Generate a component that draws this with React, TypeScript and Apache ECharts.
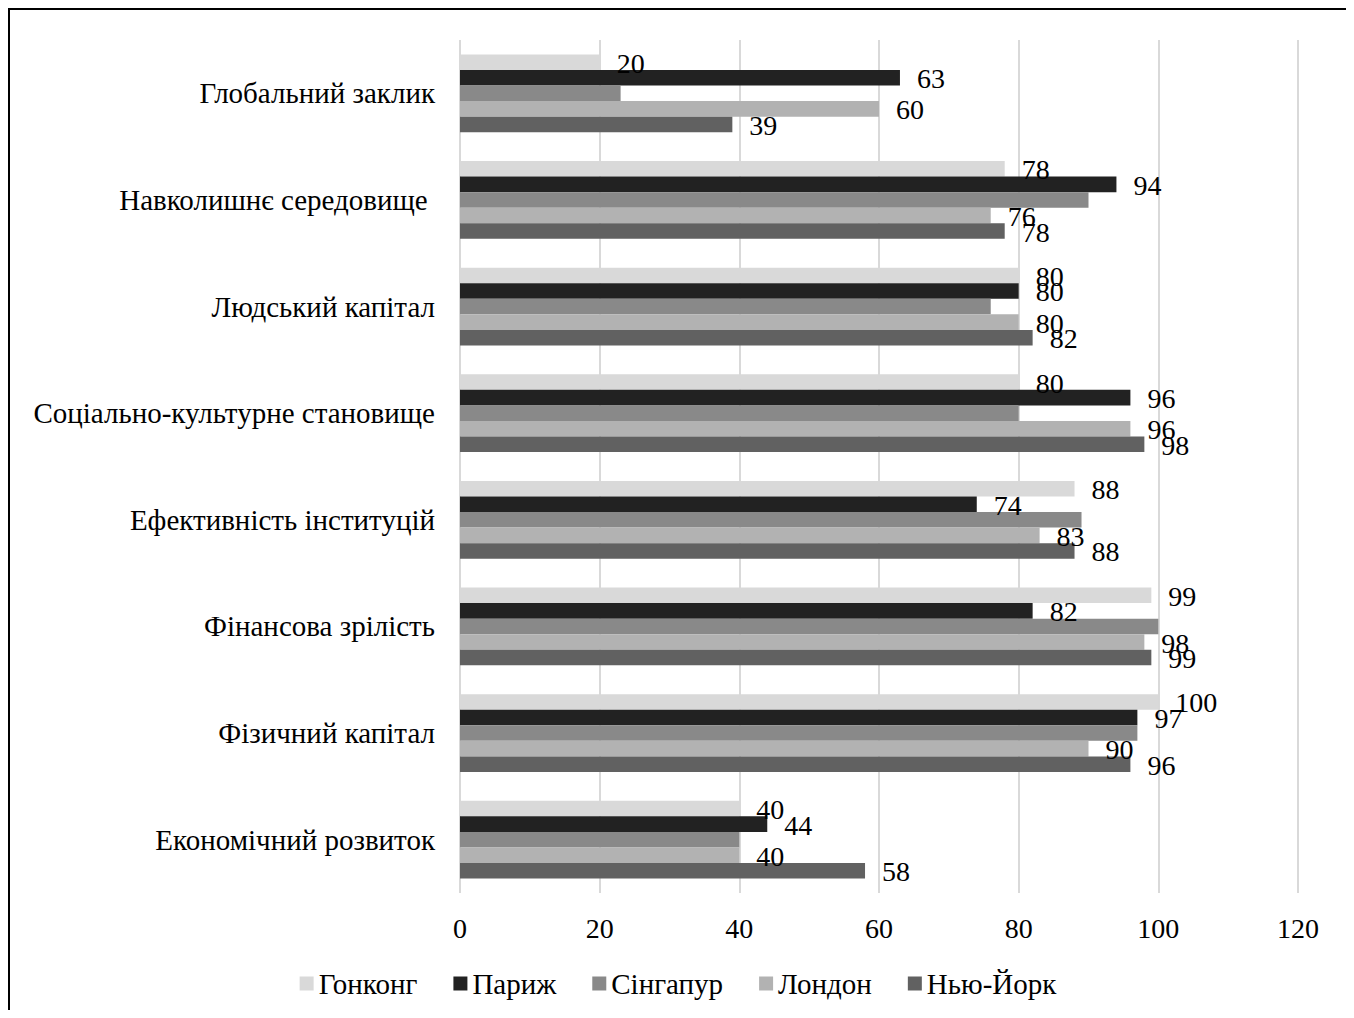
import React, { useEffect, useRef } from "react";
import * as echarts from "echarts";

const categories = [
  "Економічний розвиток",
  "Фізичний капітал",
  "Фінансова зрілість",
  "Ефективність інституцій",
  "Соціально-культурне становище",
  "Людський капітал",
  "Навколишнє середовище ",
  "Глобальний заклик",
];

const seriesNames = ["Гонконг", "Париж", "Сінгапур", "Лондон", "Нью-Йорк"];
const hongKong = [40, 100, 99, 88, 80, 80, 78, 20];
const paris = [44, 97, 82, 74, 96, 80, 94, 63];
const singapore = [40, 97, 100, 89, 80, 76, 90, 23];
const london = [40, 90, 98, 83, 96, 80, 76, 60];
const newYork = [58, 96, 99, 88, 98, 82, 78, 39];
const seriesData = [hongKong, paris, singapore, london, newYork];
const seriesColors = ["#d9d9d9", "#222222", "#898989", "#b2b2b2", "#616161"];
const showLabels = [true, true, false, true, true];
const xTicks = { min: 0, max: 120, interval: 20 };

const FONT = "'Liberation Serif', 'Times New Roman', serif";

export default function App() {
  const ref = useRef<HTMLDivElement>(null);
  useEffect(() => {
    if (!ref.current) return;
    const chart = echarts.init(ref.current, undefined, { renderer: "svg" });
    chart.setOption({
      animation: false,
      textStyle: { fontFamily: FONT },
      grid: { left: 452, right: 50, top: 32, bottom: 117, containLabel: false },
      legend: {
        bottom: 7,
        left: "center",
        itemWidth: 14,
        itemHeight: 14,
        itemGap: 36,
        icon: "rect",
        textStyle: { fontFamily: FONT, fontSize: 29, color: "#000" },
        data: seriesNames,
      },
      xAxis: {
        type: "value",
        min: xTicks.min,
        max: xTicks.max,
        interval: xTicks.interval,
        axisLine: { show: false },
        axisTick: { show: false },
        axisLabel: { fontFamily: FONT, fontSize: 28, color: "#000", margin: 21 },
        splitLine: { show: true, lineStyle: { color: "#d9d9d9", width: 2 } },
      },
      yAxis: {
        type: "category",
        data: categories,
        axisLine: { show: false },
        axisTick: { show: false },
        axisLabel: { fontFamily: FONT, fontSize: 29, color: "#000", margin: 25 },
        splitLine: { show: false },
      },
      series: seriesNames.map((name, i) => ({
        name,
        type: "bar",
        data: seriesData[i],
        barGap: "0%",
        barCategoryGap: "27%",
        itemStyle: { color: seriesColors[i] },
        label: {
          show: showLabels[i],
          position: "right",
          distance: 17,
          offset: [0, 1],
          fontFamily: FONT,
          fontSize: 28,
          color: "#000",
        },
      })),
    });
    return () => chart.dispose();
  }, []);
  return (
    <div style={{ width: 1340, height: 1002, position: "relative", background: "#fff" }}>
      <div ref={ref} style={{ position: "absolute", left: 0, top: 0, width: 1340, height: 1002 }} />
      <div
        style={{
          position: "absolute",
          left: 0,
          top: 0,
          width: 1340,
          height: 1002,
          boxSizing: "border-box",
          borderTop: "2px solid #000",
          borderLeft: "2px solid #000",
          borderRight: "2px solid #000",
          pointerEvents: "none",
        }}
      />
    </div>
  );
}
